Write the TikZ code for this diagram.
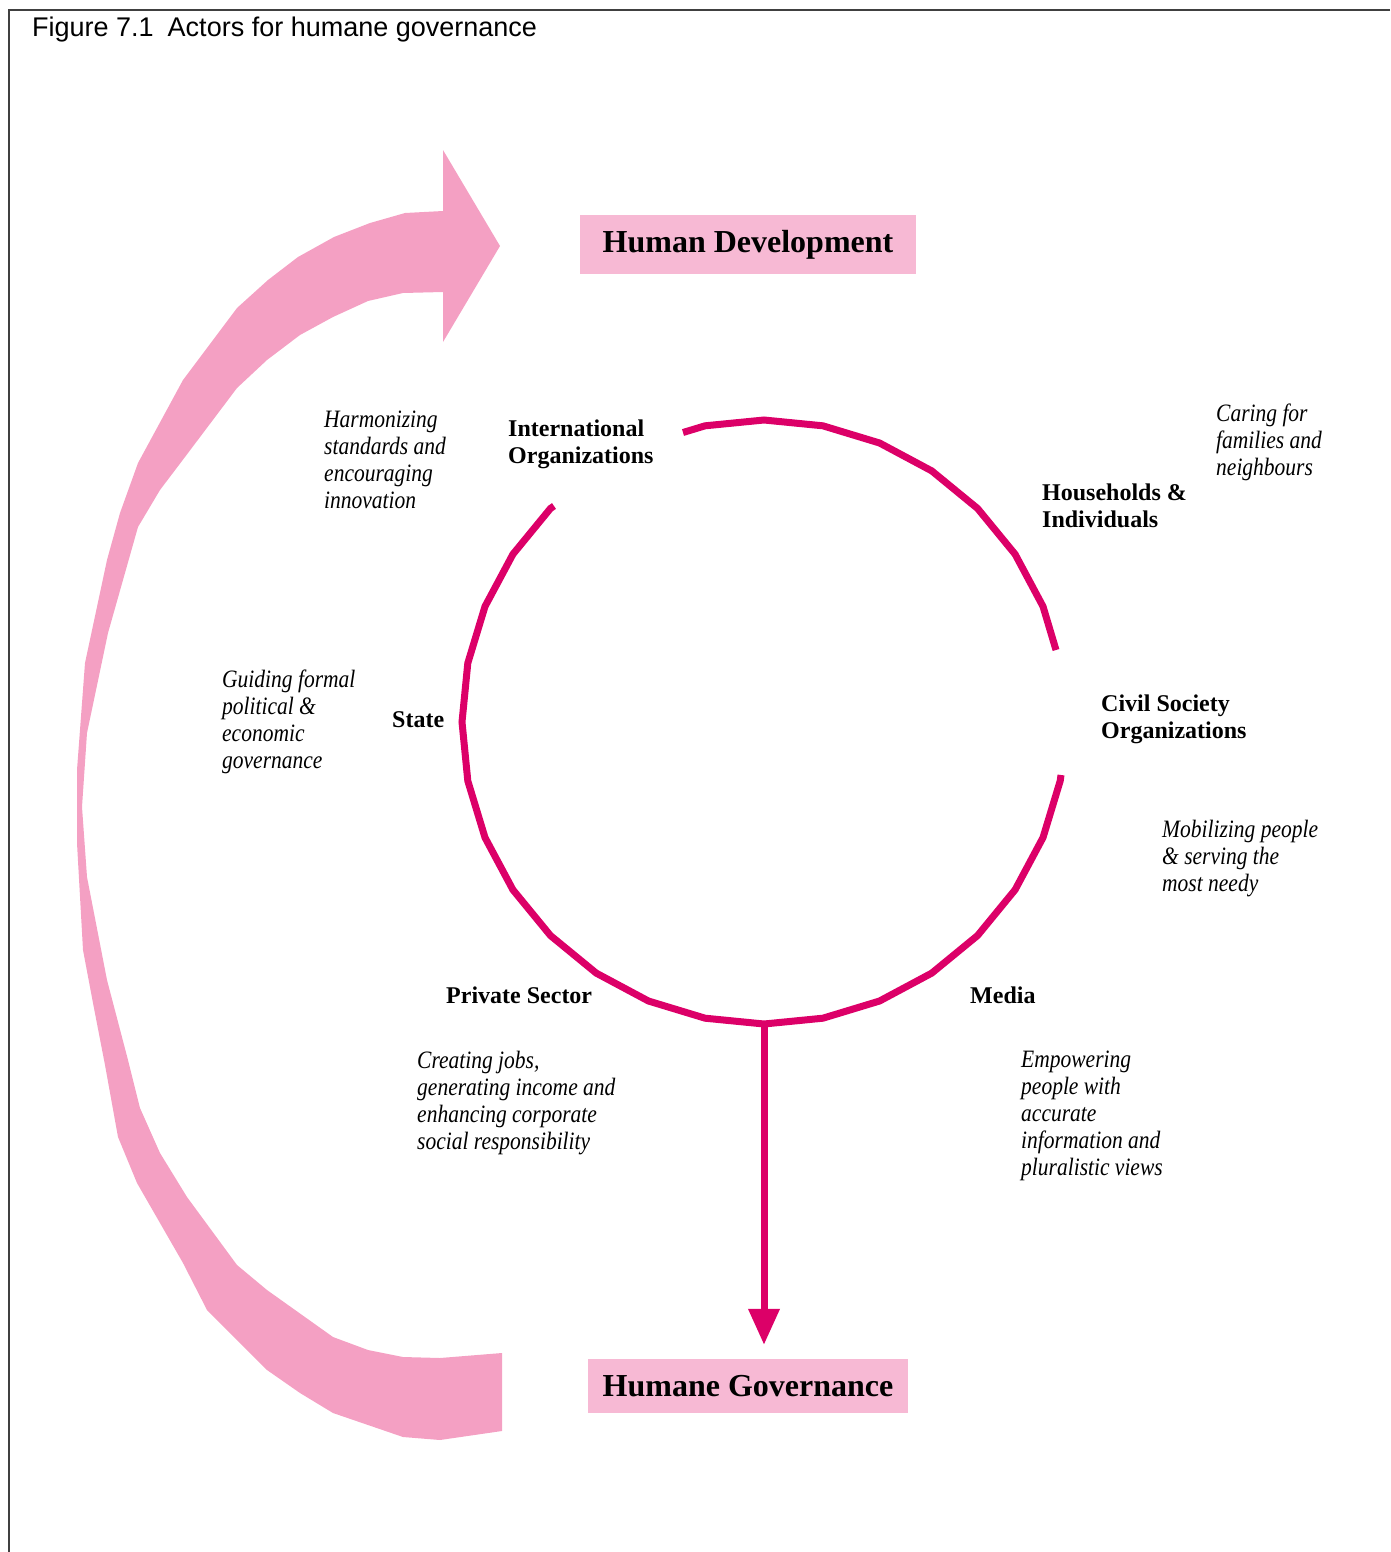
\documentclass[tikz,border=0pt]{standalone}
\usepackage{fontspec}
\setmainfont{Liberation Serif}
\newfontfamily\capfont{Liberation Sans}
\newfontfamily\notefont[FakeStretch=0.86]{Liberation Serif}
\usetikzlibrary{arrows.meta}
\definecolor{ringmag}{RGB}{220,0,104}
\definecolor{arrowpink}{RGB}{244,160,195}
\definecolor{boxpink}{RGB}{247,185,212}

\begin{document}
\begin{tikzpicture}[
    x=1pt, y=-1pt,
    actor/.style={anchor=north west, inner sep=0pt, align=left, font=\fontsize{24}{27}\selectfont\bfseries},
    role/.style={anchor=north west, inner sep=0pt, align=left, font=\notefont\fontsize{25}{27}\selectfont\itshape},
    goal/.style={fill=boxpink, inner sep=0pt, font=\fontsize{32}{36}\selectfont\bfseries},
    ringline/.style={draw=ringmag, line width=7pt},
    ]
    \useasboundingbox (0,0) rectangle (1390,1552);
    \draw[line width=1.5pt, black!75] (1390,10) -- (9,10) -- (9,1552);
    \node[anchor=west, inner sep=0pt, font=\capfont\fontsize{27}{30}\selectfont] (title) at (32,30) {Figure 7.1\hspace{14pt}Actors for humane governance};

    % big return arrow
    \fill[arrowpink] (443,211) -- (405,213) -- (370,223) -- (334,237) -- (298,257) -- (268,280) -- (237,308)
        -- (183,380) -- (138,463) -- (120,513) -- (107,560) -- (85,663) -- (77,770) -- (77,843) -- (83,950)
        -- (93,1003) -- (105,1065) -- (118,1137) -- (137,1183) -- (183,1263) -- (207,1310) -- (267,1370)
        -- (300,1393) -- (333,1413) -- (403,1437) -- (440,1440) -- (502,1431) -- (502,1353)
        -- (440,1358) -- (403,1357) -- (368,1350) -- (333,1337) -- (267,1290) -- (237,1265) -- (187,1197)
        -- (160,1153) -- (140,1108) -- (128,1060) -- (107,980) -- (87,877) -- (82,807) -- (87,733)
        -- (108,633) -- (138,527) -- (160,490) -- (185,457) -- (237,388) -- (267,360) -- (300,335)
        -- (333,317) -- (368,301) -- (403,293) -- (443,292) -- (443,342) -- (500,246) -- (443,150) -- cycle;

    \node[goal, minimum width=336pt, minimum height=59pt] (develop) at (748,244.5) {Human Development};
    \node[goal, minimum width=320pt, minimum height=54pt] (govern) at (748,1386) {Humane Governance};

    % ring of actors
    \coordinate (hub) at (764,722);
    \coordinate (ringbot) at (764,1024);
    \draw[ringline] (1056,650) \foreach \k in {2,...,9} { -- ([shift={(-\k*11.25:302)}]hub) } -- (683,432.5);
    \draw[ringline] (554,506) \foreach \k in {12,...,31} { -- ([shift={(-\k*11.25:302)}]hub) } -- (1061,775);
    \draw[ringline, -{Triangle[width=30pt,length=36pt]}, shorten >=14pt] (ringbot) -- (ringbot |- govern.north);

    \node[actor] (intl) at (508,420) {International\\Organizations};
    \node[actor] (house) at (1042,484) {Households \&\\Individuals};
    \node[actor] (civil) at (1101,695) {Civil Society\\Organizations};
    \node[actor] (media) at (970,987) {Media};
    \node[actor] (private) at (446,987) {Private Sector};
    \node[actor] (state) at (392,711) {State};

    \node[role] (intlrole) at (324,411) {Harmonizing\\standards and\\encouraging\\innovation};
    \node[role] (houserole) at (1216,404) {Caring for\\families and\\neighbours};
    \node[role] (civilrole) at (1162,820) {Mobilizing people\\\& serving the\\most needy};
    \node[role] (mediarole) at (1021,1051) {Empowering\\people with\\accurate\\information and\\pluralistic views};
    \node[role] (privaterole) at (417,1051) {Creating jobs,\\generating income and\\enhancing corporate\\social responsibility};
    \node[role] (staterole) at (222,670) {Guiding formal\\political \&\\economic\\governance};
\end{tikzpicture}
\end{document}
